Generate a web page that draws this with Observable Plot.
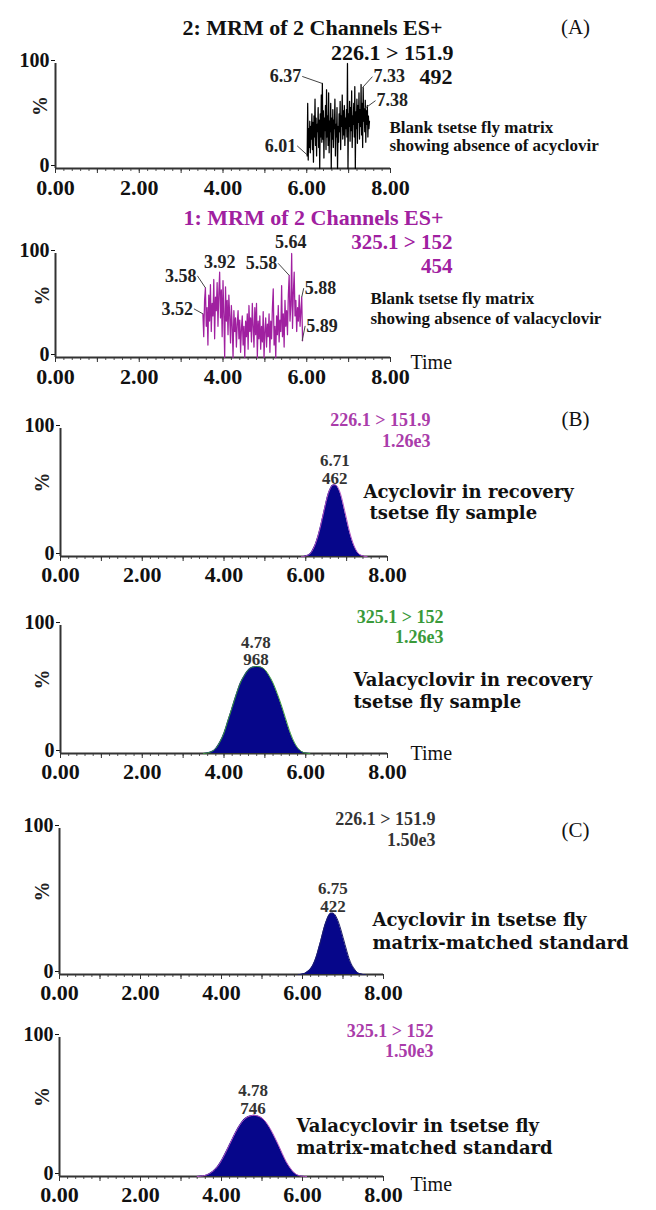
<!DOCTYPE html>
<html><head><meta charset="utf-8">
<script src="https://cdn.jsdelivr.net/npm/d3@7"></script>
<script src="https://cdn.jsdelivr.net/npm/@observablehq/plot@0.6"></script>
<style>
html,body{margin:0;padding:0;background:#fff;}
#root{position:relative;width:656px;height:1210px;overflow:hidden;background:#fff;}
#root svg{position:absolute;left:0;}
</style></head><body><div id="root"></div>
<script>
// ---------------- DATA ----------------
const xTickLabels = [0, 2, 4, 6, 8];
const yTickLabels = [0, 100];

// (A) top: blank matrix, acyclovir channel 226.1 > 151.9 (scan start / interval, % values)
const a1Start = 6.01, a1Step = 0.0125;
const a1Values = [12,62,8,38,20,45,15,40,28,52,
  18,44,6,50,30,66,22,48,12,42,
  35,58,20,46,0,52,30,70,25,81,
  28,55,10,48,36,60,18,75,30,50,
  22,72,15,45,35,62,0,48,28,56,
  20,46,38,66,12,42,30,58,0,40,
  25,52,35,64,18,50,40,70,28,55,
  32,60,22,48,38,56,30,100,0,52,
  40,64,26,58,36,74,20,50,42,62,
  30,78,0,54,38,66,24,60,44,72,
  28,56,40,80,32,62,20,77,45,57,
  35,65,25,55,42,60,30,50,38,45];
const a1Peaks = [{t:6.01,v:13,label:"6.01"},{t:6.37,v:81,label:"6.37"},{t:7.33,v:77,label:"7.33"},{t:7.38,v:57,label:"7.38"}];

// (A) bottom: blank matrix, valacyclovir channel 325.1 > 152
const a2Start = 3.52, a2Step = 0.02;
const a2Values = [42,20,55,67,30,48,12,60,35,70,
  25,52,40,75,18,58,45,72,30,62,
  82,38,65,20,74,42,0,68,35,55,
  22,60,40,14,50,30,0,45,25,38,
  10,32,45,18,36,5,28,40,12,30,
  0,35,20,42,8,50,25,38,15,52,
  30,10,48,22,52,0,35,18,40,8,
  30,15,44,0,25,38,10,32,20,42,
  5,35,18,48,66,12,30,0,40,22,
  50,15,36,25,69,20,42,10,55,30,
  45,22,60,79,35,50,100,28,62,82,
  40,55,25,48,35,60,30,45,58,16];
const a2Peaks = [{t:3.52,v:42,label:"3.52"},{t:3.58,v:67,label:"3.58"},{t:3.92,v:82,label:"3.92"},
  {t:5.58,v:79,label:"5.58"},{t:5.64,v:100,label:"5.64"},{t:5.88,v:58,label:"5.88"},{t:5.89,v:16,label:"5.89"}];

// (B) recovery sample peaks
const b1Start = 5.90, b1Step = 0.05;
const b1Values = [0,0,0.5,1,2,4,7,11,16,22,29,36,43,49,53,55.5,56,55.5,53,49,43,36,29,22,16,11,7,4,2,1,0.5,0,0];
const b1Peak = {t:6.71, v:56, label:"6.71\n462"};
const b2Start = 3.5, b2Step = 0.1;
const b2Values = [0,0.5,1.5,4,9,16,26,36,46,55,61,65.5,67.5,68,67.5,65.5,61,55,47,38,28,18,10,4.5,1.5,0.3,0];
const b2Peak = {t:4.78, v:68, label:"4.78\n968"};

// (C) matrix-matched standard peaks
const c1Start = 5.90, c1Step = 0.05;
const c1Values = [0,0,0.3,0.7,1.5,2.5,4,6,9,13,18,23,28.5,33.5,37.5,40.5,42,42,41,38.5,35,30.5,25.5,20.5,15.5,11,7.5,5,3,1.5,0.7,0.3,0,0];
const c1Peak = {t:6.75, v:42, label:"6.75\n422"};
const c2Start = 3.4, c2Step = 0.1;
const c2Values = [0,0.3,0.8,2,4,7,11.5,17,23,29,34.5,39,42,43.5,44,43.5,42,39,34.5,29,23,16.5,10.5,6,2.5,0.8,0.2,0];
const c2Peak = {t:4.78, v:44, label:"4.78\n746"};

// text content
const titleA1 = "2: MRM of 2 Channels ES+", titleA2 = "1: MRM of 2 Channels ES+";
const trAcy = "226.1 > 151.9", trVal = "325.1 > 152";
const intA1 = "492", intA2 = "454", intB = "1.26e3", intC = "1.50e3";

// ---------------- RENDER ----------------
const SERIF = "'Liberation Serif','Times New Roman',serif";
const SLAB = "'DejaVu Serif',serif";
const NAVY = "#06068a";
const PURPLE = "#a020a0", LPURPLE = "#aa3caa", GREEN = "#3a9a3a";
const W = 656;
const root = document.getElementById("root");

const series = (start, step, vals) => vals.map((v, i) => ({t: start + i * step, v}));

function txt(s, o) {
  return Plot.text([s], {text: d => d, frameAnchor: o.anchor || "top-left", dx: o.dx, dy: o.dy,
    textAnchor: o.ta || "start", lineAnchor: "middle", fill: o.fill || "#111",
    fontSize: o.fs || 22, fontWeight: o.fw || "bold", fontFamily: o.ff || SERIF, lineHeight: o.lh || 1});
}

function axes(g) {
  return [
    Plot.axisX(d3.range(0, 8.0001, 0.2), {tickSize: 3, tickFormat: () => "", label: null, stroke: "#555"}),
    Plot.axisX(d3.range(0, 9, 1), {tickSize: 5, tickFormat: () => "", label: null, stroke: "#333"}),
    Plot.axisX(xTickLabels, {tickSize: 0, tickPadding: g.tp, tickFormat: d3.format(".2f"), label: null,
      fontSize: 22, fontWeight: "bold", fontFamily: SERIF}),
    Plot.axisY(yTickLabels, {tickSize: 4, tickPadding: 2, label: null, fontSize: 20, fontWeight: "bold", fontFamily: SERIF, dy: -3}),
    Plot.ruleY([0], {stroke: "#333", strokeWidth: 2}),
    Plot.ruleX([0], {stroke: "#333", strokeWidth: 2}),
    Plot.text(["%"], {text: d => d, frameAnchor: "left", dx: g.pctDx, rotate: -90, fontSize: 20, fontWeight: "bold", fontFamily: SERIF, fill: "#222"})
  ];
}

function panel(g, marks) {
  const svg = Plot.plot({
    width: W, height: g.h,
    marginLeft: g.x0, marginRight: W - g.x8,
    marginTop: g.y100 - g.top, marginBottom: g.top + g.h - g.ybase,
    x: {domain: [0, 8], axis: null},
    y: {domain: [0, 100], axis: null},
    style: {fontFamily: SERIF, fontWeight: "bold", fontSize: "22px", color: "#111", background: "transparent", overflow: "visible"},
    marks: [...axes(g), ...marks]
  });
  svg.style.top = g.top + "px";
  root.appendChild(svg);
}

function scalesFor(g) {
  return {
    xs: Plot.scale({x: {domain: [0, 8], range: [g.x0, g.x8]}}),
    ys: Plot.scale({y: {domain: [0, 100], range: [g.ybase, g.y100]}})
  };
}

function offsetText(g, peaks, offs) {
  return peaks.map(d => Plot.text([d], {x: "t", y: "v", text: "label", textAnchor: offs[d.label].ta, lineAnchor: "middle",
    dx: offs[d.label].ox + (offs[d.label].ta === "end" ? -1 : offs[d.label].ta === "start" ? 1 : 0),
    dy: offs[d.label].oy, fontSize: 18, fontWeight: "bold", fontFamily: SERIF, fill: "#222"}));
}
function leaders(g, peaks, offs) {
  const {xs, ys} = scalesFor(g);
  return Plot.link(peaks.filter(d => offs[d.label].lead), {
    x1: "t", y1: "v",
    x2: d => xs.invert(xs.apply(d.t) + offs[d.label].ox),
    y2: d => ys.invert(ys.apply(d.v) + offs[d.label].oy),
    stroke: "#444", strokeWidth: 1
  });
}

// ---- layout ----
const L = {
  a1: {top: 0, h: 197, x0: 55, x8: 390, y100: 63, ybase: 168, tp: 11, pctDx: -15},
  a2: {top: 197, h: 195, x0: 55, x8: 390, y100: 253, ybase: 357, tp: 11, pctDx: -13},
  b1: {top: 392, h: 200, x0: 60, x8: 387, y100: 428, ybase: 556, tp: 10, pctDx: -18},
  b2: {top: 592, h: 203, x0: 60, x8: 387, y100: 625, ybase: 753, tp: 10, pctDx: -18},
  c1: {top: 795, h: 215, x0: 59, x8: 383, y100: 828, ybase: 974, tp: 10, pctDx: -17},
  c2: {top: 1010, h: 200, x0: 59, x8: 383, y100: 1037, ybase: 1176, tp: 10, pctDx: -17}
};
const a1Offs = {
  "6.01": {ox: -10, oy: -9, ta: "end", lead: true},
  "6.37": {ox: -20, oy: -7, ta: "end", lead: true},
  "7.33": {ox: 10, oy: -11, ta: "start", lead: true},
  "7.38": {ox: 11, oy: -8, ta: "start", lead: true}
};
const a2Offs = {
  "3.52": {ox: -9, oy: -5, ta: "end", lead: true},
  "3.58": {ox: -8, oy: -12, ta: "end", lead: true},
  "3.92": {ox: 0, oy: -10, ta: "middle", lead: false},
  "5.58": {ox: -11, oy: -12, ta: "end", lead: true},
  "5.64": {ox: -1, oy: -11, ta: "middle", lead: false},
  "5.88": {ox: 2, oy: -9, ta: "start", lead: true},
  "5.89": {ox: 3, oy: -15, ta: "start", lead: true}
};

function peakMarks(data, peak, outline) {
  return [
    Plot.areaY(data, {x: "t", y: "v", fill: NAVY, curve: "monotone-x"}),
    Plot.lineY(data, {x: "t", y: "v", stroke: outline, strokeWidth: 1, curve: "monotone-x"}),
    Plot.text([peak], {x: "t", y: "v", text: "label", lineAnchor: "bottom", dy: -1, lineHeight: 1.05,
      fontSize: 17, fontWeight: "bold", fontFamily: SERIF, fill: "#333"})
  ];
}

// A1
panel(L.a1, [
  Plot.line(series(a1Start, a1Step, a1Values), {x: "t", y: "v", stroke: "#000", strokeWidth: 1.25}),
  leaders(L.a1, a1Peaks, a1Offs),
  ...offsetText(L.a1, a1Peaks, a1Offs),
  txt(titleA1, {dx: 257, dy: -36, ta: "middle"}),
  txt("(A)", {dx: 520, dy: -36, ta: "middle", fw: "normal", fs: 21}),
  txt(trAcy, {dx: 398, dy: -11, ta: "end"}),
  txt(intA1, {dx: 397, dy: 13, ta: "end"}),
  txt("Blank tsetse fly matrix\nshowing absence of acyclovir", {dx: 334, dy: 73, fs: 17, lh: 1.06})
]);

// A2
panel(L.a2, [
  Plot.line(series(a2Start, a2Step, a2Values), {x: "t", y: "v", stroke: PURPLE, strokeWidth: 1.25}),
  leaders(L.a2, a2Peaks, a2Offs),
  ...offsetText(L.a2, a2Peaks, a2Offs),
  txt(titleA2, {dx: 258, dy: -36, ta: "middle", fill: PURPLE}),
  txt(trVal, {dx: 397, dy: -11, ta: "end", fill: PURPLE, fs: 21}),
  txt(intA2, {dx: 397, dy: 13, ta: "end", fill: PURPLE, fs: 21}),
  txt("Blank tsetse fly matrix\nshowing absence of valacyclovir", {dx: 315, dy: 54, fs: 17, lh: 1.18}),
  txt("Time", {anchor: "bottom-right", dx: 20, dy: 5, fw: "normal", fs: 20})
]);

// B1
panel(L.b1, [
  ...peakMarks(series(b1Start, b1Step, b1Values), b1Peak, "#b050c0"),
  txt(trAcy, {dx: 370, dy: -8, ta: "end", fill: LPURPLE, fs: 18}),
  txt(intB, {dx: 370, dy: 13, ta: "end", fill: LPURPLE, fs: 18}),
  txt("(B)", {dx: 515, dy: -9, ta: "middle", fw: "normal", fs: 21}),
  txt("Acyclovir in recovery", {dx: 303, dy: 64, ff: SLAB, fs: 18}),
  txt("tsetse fly sample", {dx: 309, dy: 85, ff: SLAB, fs: 18})
]);

// B2
panel(L.b2, [
  ...peakMarks(series(b2Start, b2Step, b2Values), b2Peak, GREEN),
  txt(trVal, {dx: 383, dy: -8, ta: "end", fill: GREEN, fs: 18}),
  txt(intB, {dx: 383, dy: 12, ta: "end", fill: GREEN, fs: 18}),
  txt("Valacyclovir in recovery", {dx: 293, dy: 55, ff: SLAB, fs: 18}),
  txt("tsetse fly sample", {dx: 293, dy: 77, ff: SLAB, fs: 18}),
  txt("Time", {anchor: "bottom-right", dx: 23, dy: 0, fw: "normal", fs: 20})
]);

// C1
panel(L.c1, [
  ...peakMarks(series(c1Start, c1Step, c1Values), c1Peak, "#20206a"),
  txt(trAcy, {dx: 376, dy: -9, ta: "end", fill: "#333", fs: 18}),
  txt(intC, {dx: 376, dy: 12, ta: "end", fill: "#333", fs: 18}),
  txt("(C)", {dx: 516, dy: 2, ta: "middle", fw: "normal", fs: 21}),
  txt("Acyclovir in tsetse fly", {dx: 313, dy: 92, ff: SLAB, fs: 18}),
  txt("matrix-matched standard", {dx: 313, dy: 115, ff: SLAB, fs: 18})
]);

// C2
panel(L.c2, [
  ...peakMarks(series(c2Start, c2Step, c2Values), c2Peak, "#b050c0"),
  txt(trVal, {dx: 374, dy: -6, ta: "end", fill: LPURPLE, fs: 18}),
  txt(intC, {dx: 374, dy: 14, ta: "end", fill: LPURPLE, fs: 18}),
  txt("Valacyclovir in tsetse fly", {dx: 237, dy: 89, ff: SLAB, fs: 18}),
  txt("matrix-matched standard", {dx: 237, dy: 111, ff: SLAB, fs: 18}),
  txt("Time", {anchor: "bottom-right", dx: 27, dy: 8, fw: "normal", fs: 20})
]);
</script></body></html>
